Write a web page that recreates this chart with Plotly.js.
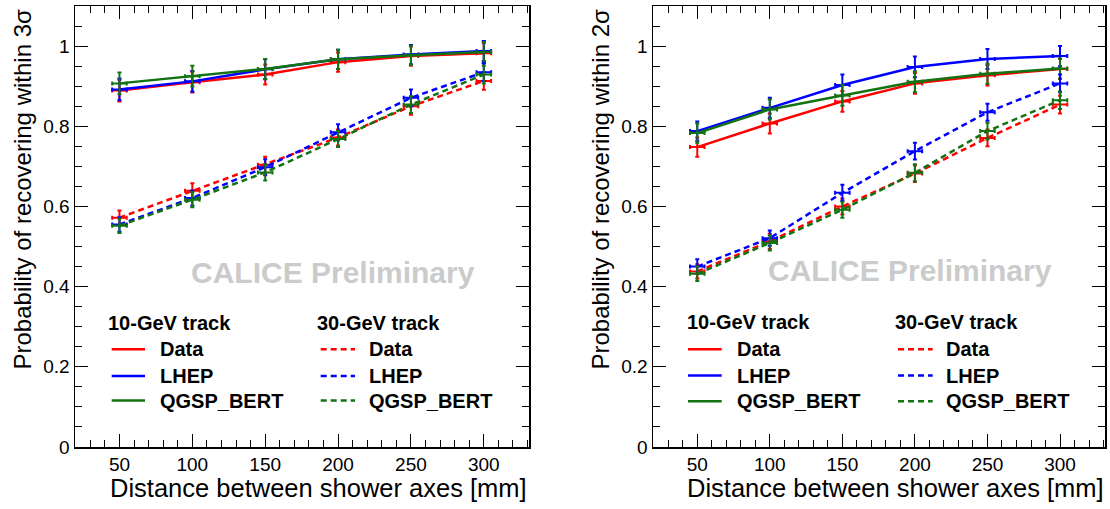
<!DOCTYPE html>
<html>
<head>
<meta charset="utf-8">
<script src="https://cdn.plot.ly/plotly-3.0.1.min.js"></script>
<style>
  html, body { margin: 0; padding: 0; background: #ffffff; }
  #chart { width: 1110px; height: 509px; }
</style>
</head>
<body>
<div id="chart"></div>
<script>
// ---- data ----
const distance = [50, 100, 150, 200, 250, 300];      // mm
const distanceErr = [5, 5, 5, 5, 5, 5];

// Left panel: probability of recovering within 3 sigma
const data10_3s = [0.889, 0.910, 0.929, 0.960, 0.975, 0.982];
const lhep10_3s = [0.892, 0.912, 0.942, 0.967, 0.979, 0.988];
const qgsp10_3s = [0.907, 0.925, 0.943, 0.967, 0.977, 0.985];
const data30_3s = [0.572, 0.639, 0.704, 0.772, 0.850, 0.913];
const lhep30_3s = [0.555, 0.621, 0.698, 0.785, 0.871, 0.935];
const qgsp30_3s = [0.552, 0.617, 0.685, 0.768, 0.854, 0.929];
const err10_3s = [0.027, 0.026, 0.025, 0.024, 0.024, 0.025];
const err30_3s = [0.018, 0.019, 0.020, 0.020, 0.021, 0.022];

// Right panel: probability of recovering within 2 sigma
const data10_2s = [0.748, 0.807, 0.862, 0.907, 0.927, 0.943];
const lhep10_2s = [0.788, 0.846, 0.903, 0.948, 0.968, 0.975];
const qgsp10_2s = [0.783, 0.842, 0.877, 0.911, 0.931, 0.944];
const data30_2s = [0.438, 0.513, 0.600, 0.682, 0.771, 0.854];
const lhep30_2s = [0.450, 0.521, 0.634, 0.738, 0.835, 0.907];
const qgsp30_2s = [0.432, 0.509, 0.592, 0.684, 0.788, 0.865];
const err10_2s = [0.024, 0.025, 0.026, 0.026, 0.025, 0.025];
const err30_2s = [0.018, 0.019, 0.020, 0.021, 0.021, 0.022];

const seriesNames = ['Data', 'LHEP', 'QGSP_BERT'];
const groupTitles = ['10-GeV track', '30-GeV track'];
const yTitles = ['Probability of recovering within 3σ', 'Probability of recovering within 2σ'];
const xTitle = 'Distance between shower axes [mm]';
const watermark = 'CALICE Preliminary';

// ---- styling ----
const FONT = 'Liberation Sans, Arial, Helvetica, sans-serif';
const colors = ['#ff0000', '#0000ff', '#137313'];
const LW = 2.5;
const DASH = '6px,4px';

function mk(y, err, name, ci, dashed, xa, ya) {
  return {
    type: 'scatter', mode: 'lines',
    x: distance, y: y, name: name,
    xaxis: xa, yaxis: ya, showlegend: false,
    line: { color: colors[ci], width: LW, dash: dashed ? DASH : 'solid' },
    error_y: { type: 'data', array: err, color: colors[ci], thickness: 2, width: 2 },
    error_x: { type: 'data', array: distanceErr, color: colors[ci], thickness: 2, width: 2 },
    hoverinfo: 'x+y+name'
  };
}

const traces = [
  mk(data10_3s, err10_3s, seriesNames[0], 0, false, 'x', 'y'),
  mk(lhep10_3s, err10_3s, seriesNames[1], 1, false, 'x', 'y'),
  mk(qgsp10_3s, err10_3s, seriesNames[2], 2, false, 'x', 'y'),
  mk(data30_3s, err30_3s, seriesNames[0], 0, true, 'x', 'y'),
  mk(lhep30_3s, err30_3s, seriesNames[1], 1, true, 'x', 'y'),
  mk(qgsp30_3s, err30_3s, seriesNames[2], 2, true, 'x', 'y'),
  mk(data10_2s, err10_2s, seriesNames[0], 0, false, 'x2', 'y2'),
  mk(lhep10_2s, err10_2s, seriesNames[1], 1, false, 'x2', 'y2'),
  mk(qgsp10_2s, err10_2s, seriesNames[2], 2, false, 'x2', 'y2'),
  mk(data30_2s, err30_2s, seriesNames[0], 0, true, 'x2', 'y2'),
  mk(lhep30_2s, err30_2s, seriesNames[1], 1, true, 'x2', 'y2'),
  mk(qgsp30_2s, err30_2s, seriesNames[2], 2, true, 'x2', 'y2')
];

const W = 1110, H = 509;
const px = v => v / W;
const py = v => (H - v) / H;

function xAxis(domain, anchor) {
  return {
    domain: domain, anchor: anchor, range: [19.5, 331],
    tickmode: 'linear', tick0: 0, dtick: 50,
    ticks: 'inside', ticklen: 13, tickwidth: 1, tickcolor: '#000',
    minor: { ticks: 'inside', ticklen: 7, tickwidth: 1, tickcolor: '#000', dtick: 10, tick0: 0, showgrid: false },
    showline: true, linecolor: '#000', linewidth: 1.5, mirror: 'allticks',
    showgrid: false, zeroline: false,
    tickfont: { family: FONT, size: 19, color: '#000' }
  };
}
function yAxis(anchor) {
  return {
    domain: [py(447), py(6)], anchor: anchor, range: [0, 1.1],
    tickmode: 'linear', tick0: 0, dtick: 0.2,
    ticks: 'inside', ticklen: 13, tickwidth: 1, tickcolor: '#000',
    minor: { ticks: 'inside', ticklen: 7, tickwidth: 1, tickcolor: '#000', dtick: 0.05, tick0: 0, showgrid: false },
    showline: true, linecolor: '#000', linewidth: 1.5, mirror: 'allticks',
    showgrid: false, zeroline: false,
    tickfont: { family: FONT, size: 19, color: '#000' }
  };
}

const annotations = [
  { text: watermark, xref: 'paper', yref: 'paper', x: px(333), y: py(272), xanchor: 'center', yanchor: 'middle',
    showarrow: false, font: { family: FONT, size: 30, color: '#cbcbcb', weight: 'bold' } },
  { text: watermark, xref: 'paper', yref: 'paper', x: px(910), y: py(270), xanchor: 'center', yanchor: 'middle',
    showarrow: false, font: { family: FONT, size: 30, color: '#cbcbcb', weight: 'bold' } },
  { text: xTitle, xref: 'paper', yref: 'paper', x: px(529), y: py(488), xanchor: 'right', yanchor: 'middle',
    showarrow: false, font: { family: FONT, size: 25.5, color: '#000' } },
  { text: xTitle, xref: 'paper', yref: 'paper', x: px(1106), y: py(488), xanchor: 'right', yanchor: 'middle',
    showarrow: false, font: { family: FONT, size: 25.5, color: '#000' } },
  { text: yTitles[0], xref: 'paper', yref: 'paper', x: px(22), y: py(7), xanchor: 'center', yanchor: 'top',
    textangle: -90, showarrow: false, font: { family: FONT, size: 24, color: '#000' } },
  { text: yTitles[1], xref: 'paper', yref: 'paper', x: px(600), y: py(7), xanchor: 'center', yanchor: 'top',
    textangle: -90, showarrow: false, font: { family: FONT, size: 24, color: '#000' } }
];
const shapes = [];

// Two-column legend block (ROOT TLegend style): header + 3 entries per column
function legendColumn(titleX, lineX0, lineX1, textX, titleY, rowYs, title, dashed) {
  annotations.push({ text: title, xref: 'paper', yref: 'paper', x: px(titleX), y: py(titleY),
    xanchor: 'left', yanchor: 'middle', showarrow: false, borderpad: 0,
    font: { family: FONT, size: 20, color: '#000', weight: 'bold' } });
  seriesNames.forEach((nm, i) => {
    shapes.push({ type: 'line', xref: 'paper', yref: 'paper',
      x0: px(lineX0), x1: px(lineX1), y0: py(rowYs[i]), y1: py(rowYs[i]),
      line: { color: colors[i], width: LW, dash: dashed ? DASH : 'solid' } });
    annotations.push({ text: nm, xref: 'paper', yref: 'paper', x: px(textX), y: py(rowYs[i]),
      xanchor: 'left', yanchor: 'middle', showarrow: false, borderpad: 0,
      font: { family: FONT, size: 20, color: '#000', weight: 'bold' } });
  });
}
const rowsL = [349.3, 376, 400.5];
const rowsR = [349.3, 375.5, 401.2];
legendColumn(107, 111.7, 145, 158.5, 322.7, rowsL, groupTitles[0], false);
legendColumn(316.5, 320.7, 355, 367.5, 322.7, rowsL, groupTitles[1], true);
legendColumn(686, 688, 721.7, 736, 321.7, rowsR, groupTitles[0], false);
legendColumn(894, 898, 932.7, 945, 321.7, rowsR, groupTitles[1], true);

const layout = {
  width: W, height: H,
  margin: { l: 0, r: 0, t: 0, b: 0 },
  paper_bgcolor: '#ffffff', plot_bgcolor: '#ffffff',
  font: { family: FONT, color: '#000' },
  xaxis: xAxis([px(75), px(529)], 'y'),
  yaxis: yAxis('x'),
  xaxis2: xAxis([px(653), px(1105)], 'y2'),
  yaxis2: yAxis('x2'),
  showlegend: false,
  annotations: annotations,
  shapes: shapes
};

Plotly.newPlot('chart', traces, layout, { displayModeBar: false, staticPlot: true });
</script>
</body>
</html>
